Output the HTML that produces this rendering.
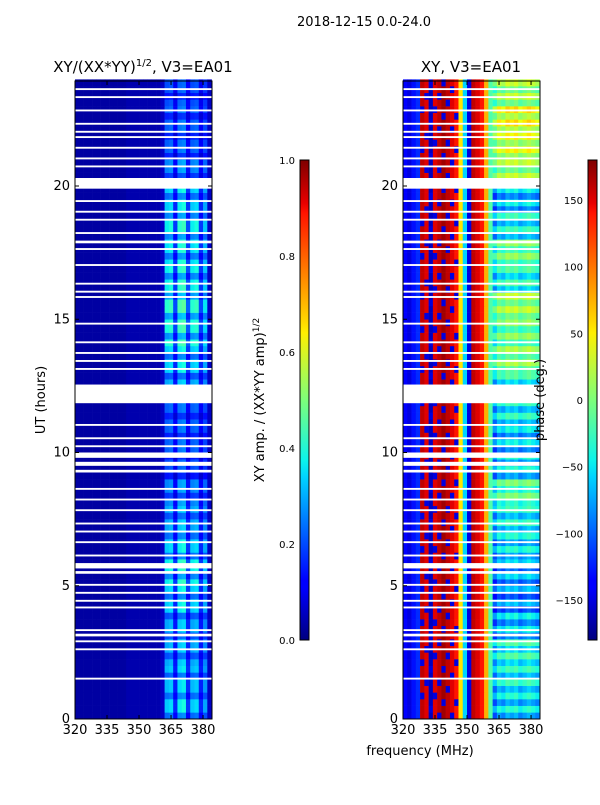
<!DOCTYPE html>
<html><head><meta charset="utf-8"><style>
body{margin:0;background:#fff;width:600px;height:800px;overflow:hidden}
svg text{font-family:"DejaVu Sans","Liberation Sans",sans-serif;fill:#000}
</style></head><body>
<svg id="fig" width="600" height="800" xmlns="http://www.w3.org/2000/svg">
<defs>
<linearGradient id="jet" x1="0" y1="1" x2="0" y2="0">
<stop offset="0" stop-color="#00007f"/><stop offset="0.11" stop-color="#0000ff"/><stop offset="0.125" stop-color="#0000ff"/><stop offset="0.34" stop-color="#00d4ff"/><stop offset="0.375" stop-color="#0cf4eb"/><stop offset="0.5" stop-color="#7dff7a"/><stop offset="0.64" stop-color="#fff000"/><stop offset="0.66" stop-color="#ffdb00"/><stop offset="0.89" stop-color="#ff1300"/><stop offset="0.91" stop-color="#e80000"/><stop offset="1" stop-color="#7f0000"/>
</linearGradient>
</defs>
<text x="364" y="26" font-size="13" text-anchor="middle">2018-12-15 0.0-24.0</text>
<text x="143" y="72" font-size="15" text-anchor="middle">XY/(XX*YY)<tspan font-size="10" dy="-6">1/2</tspan><tspan dy="6">, V3=EA01</tspan></text>
<text x="471" y="72" font-size="15" text-anchor="middle">XY, V3=EA01</text>
<g id="amp"></g>
<g id="pha"></g>
<g id="axes"></g>
<rect x="300" y="160" width="9" height="480" fill="url(#jet)" stroke="#000" stroke-width="1"/>
<rect x="588" y="160" width="9" height="480" fill="url(#jet)" stroke="#000" stroke-width="1"/>
<text transform="translate(264,400) rotate(-90)" font-size="13" text-anchor="middle">XY amp. / (XX*YY amp)<tspan font-size="9" dy="-5">1/2</tspan></text>
<text transform="translate(544,400) rotate(-90)" font-size="13" text-anchor="middle">phase (deg.)</text>
<text transform="translate(45,400) rotate(-90)" font-size="13" text-anchor="middle">UT (hours)</text>
<text x="420" y="755" font-size="13" text-anchor="middle">frequency (MHz)</text>
</svg>
<script>
// frequency channels 320..384 step 2 MHz
const freqs=[320,322,324,326,328,330,332,334,336,338,340,342,344,346,348,350,352,354,356,358,360,362,364,366,368,370,372,374,376,378,380,382];
const ampProfile=[0.03,0.03,0.03,0.03,0.03,0.03,0.03,0.03,0.03,0.03,0.03,0.03,0.04,0.04,0.04,0.04,0.04,0.04,0.04,0.04,0.06,0.36,0.38,0.18,0.4,0.42,0.2,0.36,0.38,0.18,0.32,0.06];
const phaseProfile=[-140,-150,-130,-120,160,150,-160,150,160,170,160,150,140,60,-60,-150,160,150,140,80,-20,-60,-30,-40,-20,-30,-20,-40,-30,-20,-30,-40];
// hourly modifiers (index = hour 0..23)
const ampRow=[0.9,0.85,0.8,0.8,0.9,1.0,0.9,0.8,0.7,0.55,0.6,0.6,0.8,0.9,1.05,1.1,1.0,0.95,1.0,0.9,0.7,0.6,0.6,0.55];
const phaseRow=[-30,-20,-10,-40,-60,-50,-30,-20,10,-30,-40,-20,-10,30,20,40,-10,20,-20,-40,40,60,70,40];
// white gaps: [start hour, end hour]
const gaps=[[1.48,1.55],[2.58,2.65],[2.88,2.95],[3.1,3.2],[3.3,3.37],[4.15,4.22],[4.4,4.47],[4.7,4.77],[5.0,5.07],[5.45,5.55],[5.65,5.85],[6.1,6.17],[6.6,6.67],[7.0,7.07],[7.3,7.37],[7.8,7.87],[8.2,8.27],[8.6,8.67],[9.25,9.35],[9.5,9.65],[9.8,10.0],[10.2,10.27],[10.5,10.57],[11.0,11.07],[11.85,12.55],[13.1,13.17],[13.4,13.47],[13.7,13.77],[14.1,14.17],[14.8,14.87],[15.8,15.87],[16.0,16.07],[16.3,16.37],[17.0,17.07],[17.6,17.67],[17.85,17.95],[18.2,18.27],[18.7,18.77],[19.0,19.07],[19.4,19.47],[19.9,20.3],[20.7,20.77],[21.0,21.07],[21.4,21.47],[21.8,21.87],[22.0,22.07],[22.3,22.37],[22.8,22.87],[23.3,23.37],[23.6,23.67]];
const xTicks=[320,335,350,365,380];
const yTicks=[0,5,10,15,20];
const ampTicks=["0.0","0.2","0.4","0.6","0.8","1.0"];
const phaseTicks=[-150,-100,-50,0,50,100,150];

function jet(v){v=Math.max(0,Math.min(1,v));
 const seg=(pts)=>{for(let i=1;i<pts.length;i++){if(v<=pts[i][0]){const a=pts[i-1],b=pts[i];return a[1]+(b[1]-a[1])*(v-a[0])/(b[0]-a[0]);}}return pts[pts.length-1][1];};
 const r=seg([[0,0],[0.35,0],[0.66,1],[0.89,1],[1,0.5]]),g=seg([[0,0],[0.125,0],[0.375,1],[0.64,1],[0.91,0],[1,0]]),b=seg([[0,0.5],[0.11,1],[0.34,1],[0.65,0],[1,0]]);
 return `rgb(${Math.round(r*255)},${Math.round(g*255)},${Math.round(b*255)})`;}
const NS='http://www.w3.org/2000/svg';
function mk(tag,attrs,parent){const e=document.createElementNS(NS,tag);for(const k in attrs)e.setAttribute(k,attrs[k]);parent.appendChild(e);return e;}
const Y0=719,Y1=81,tMax=23.94,fMin=320,fMax=384.2;
const yS=t=>Y0-(Y0-Y1)*t/tMax;
function panel(g,x0,x1,valFn){
 const xS=f=>x0+(x1-x0)*(f-fMin)/(fMax-fMin);
 const dt=0.25;
 for(let h=0;h<96;h++){const t=h*dt;const hr=Math.floor(t);
  for(let j=0;j<freqs.length;j++){
   const r=mk('rect',{x:xS(freqs[j]).toFixed(2),y:yS(t+dt).toFixed(2),width:(xS(freqs[j]+2)-xS(freqs[j])+0.3).toFixed(2),height:(yS(t)-yS(t+dt)+0.3).toFixed(2),fill:jet(valFn(j,hr,h))},g);
   
   
  }}
 gaps.forEach(gp=>{const r=mk('rect',{x:x0,y:yS(gp[1]),width:x1-x0,height:Math.max(1.5,yS(gp[0])-yS(gp[1])),fill:'#fff'},g);
  
  });
 const ax=document.getElementById('axes');
 const fr=mk('rect',{x:x0,y:Y1,width:x1-x0,height:Y0-Y1,fill:'none',stroke:'#000','stroke-width':1},ax);
 
 
 xTicks.forEach(v=>{const x=xS(v);mk('line',{x1:x,x2:x,y1:Y0,y2:Y0-4,stroke:'#000'},ax);mk('line',{x1:x,x2:x,y1:Y1,y2:Y1+4,stroke:'#000'},ax);
  const t=mk('text',{x:x,y:Y0+15,'font-size':13,'text-anchor':'middle'},ax);t.textContent=v;
  
  });
 yTicks.forEach(v=>{const y=yS(v);mk('line',{x1:x0,x2:x0+4,y1:y,y2:y,stroke:'#000'},ax);mk('line',{x1:x1,x2:x1-4,y1:y,y2:y,stroke:'#000'},ax);
  const t=mk('text',{x:x0-5,y:y+4,'font-size':13,'text-anchor':'end'},ax);t.textContent=v;
  
  });
}
panel(document.getElementById('amp'),75,212,(j,hr,h)=>{const base=ampProfile[j];return base>0.15?base*ampRow[hr]*(h%3===0?0.7:1):base;});
panel(document.getElementById('pha'),403,540,(j,hr,h)=>{let p=phaseProfile[j];
 if(j>=21)p+=phaseRow[hr]+(h%2?20:-20);
 else if(j>=4&&j<13&&(h*13+j*7)%11<2)p=-150;
 if(p>180)p-=360;if(p<-180)p+=360;return (p+180)/360;});
const ax=document.getElementById('axes');
ampTicks.forEach((s,i)=>{const y=640-480*i/5;mk('line',{x1:300,x2:304,y1:y,y2:y,stroke:'#000'},ax);
 const t=mk('text',{x:295,y:y+4,'font-size':10,'text-anchor':'end'},ax);t.textContent=s;
 
 });
phaseTicks.forEach(v=>{const y=640-480*(v+180)/360;mk('line',{x1:588,x2:592,y1:y,y2:y,stroke:'#000'},ax);
 const t=mk('text',{x:583,y:y+4,'font-size':10,'text-anchor':'end'},ax);t.textContent=v<0?'\u2212'+(-v):v;
 
 });
</script>
</body></html>
